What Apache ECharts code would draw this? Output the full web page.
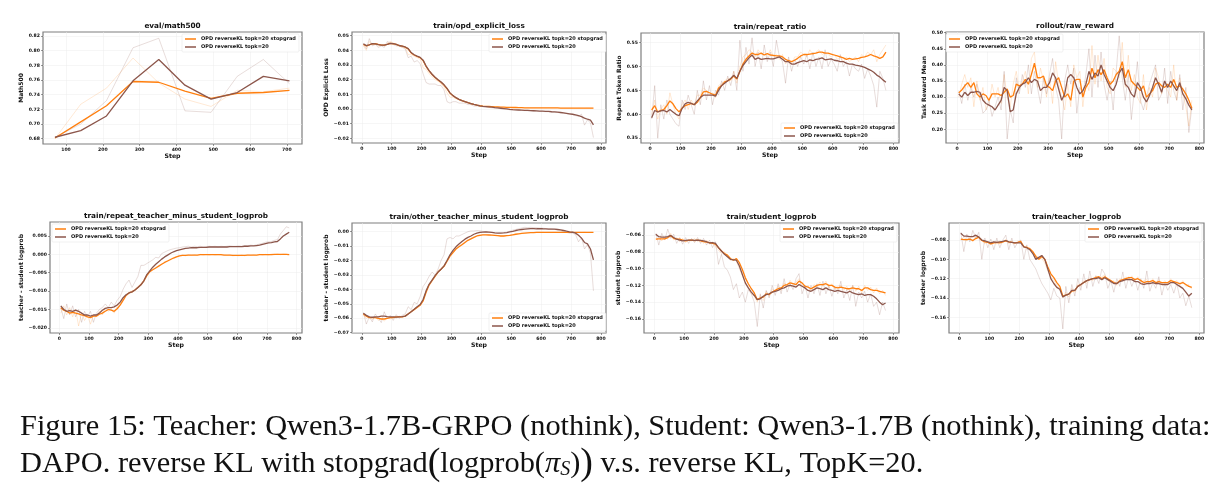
<!DOCTYPE html>
<html><head><meta charset="utf-8">
<script src="https://cdn.jsdelivr.net/npm/echarts@6/dist/echarts.min.js"></script>
<style>html,body{margin:0;padding:0;background:#fff}#c{width:1227px;height:499px}</style>
</head><body><div id="c"></div>
<script>
// ---------------- DATA ----------------
const NAME_SG = 'OPD reverseKL topk=20 stopgrad';
const NAME_TK = 'OPD reverseKL topk=20';

const steps = [5,15,25,35,45,55,65,75,85,95,
105,115,125,135,145,155,165,175,185,195,
205,215,225,235,245,255,265,275,285,295,
305,315,325,335,345,355,365,375,385,395,
405,415,425,435,445,455,465,475,485,495,
505,515,525,535,545,555,565,575,585,595,
605,615,625,635,645,655,665,675,685,695,
705,715,725,735,745,755,765,775];

// eval/math500
const mathSteps = [70,140,210,282,352,423,494,565,636,707];
const math_sg_smooth = [0.681,0.703,0.725,0.758,0.757,0.745,0.735,0.742,0.743,0.746];
const math_tk_smooth = [0.682,0.691,0.711,0.759,0.788,0.753,0.734,0.743,0.765,0.759];
const math_sg_raw = [0.680,0.727,0.749,0.790,0.756,0.734,0.724,0.746,0.744,0.749];
const math_tk_raw = [0.682,0.700,0.732,0.804,0.817,0.718,0.716,0.765,0.788,0.755];

// train/opd_explicit_loss
const loss_sg_smooth = [.044,.043,.0437,.0445,.0445,.0440,.0436,.0435,.0440,.0447,
.0445,.0440,.0432,.0428,.0422,.0410,.0382,.0368,.0358,.0350,
.0330,.0290,.0260,.0235,.0215,.0198,.0182,.0163,.0138,.0108,
.0090,.0076,.0066,.0057,.0050,.0043,.0037,.0031,.0026,.0022,
.0019,.0018,.0017,.0016,.0015,.0014,.0013,.0012,.0011,.0011,
.0010,.0010,.0009,.0009,.0008,.0008,.0008,.0007,.0007,.0007,
.0007,.0007,.0007,.0007,.0007,.0007,.0006,.0006,.0006,.0006,
.0006,.0006,.0006,.0006,.0006,.0006,.0006,.0006];
const loss_tk_smooth = [.0445,.0432,.0438,.0446,.0444,.0439,.0436,.0436,.0441,.0448,
.0446,.0441,.0433,.0429,.0423,.0412,.0385,.0370,.0360,.0352,
.0333,.0293,.0262,.0237,.0217,.0200,.0184,.0165,.0140,.0110,
.0091,.0077,.0066,.0057,.0050,.0043,.0037,.0031,.0026,.0021,
.0018,.0016,.0014,.0012,.0009,.0007,.0005,.0003,.0001,-.0003,
-.0005,-.0006,-.0007,-.0008,-.0009,-.0010,-.0011,-.0012,-.0013,-.0014,
-.0015,-.0016,-.0017,-.0019,-.0020,-.0022,-.0024,-.0027,-.0030,-.0033,
-.0036,-.0040,-.0046,-.0052,-.0062,-.0070,-.0076,-.0108];
const loss_sg_raw = [.043,.040,.046,.044,.0445,.043,.044,.043,.045,.046,
.045,.044,.043,.042,.042,.037,.037,.036,.035,.034,
.028,.027,.024,.022,.020,.019,.017,.015,.011,.008,
.008,.007,.006,.0055,.0048,.0042,.0036,.003,.0025,.0021,
.0018,.0017,.0016,.0015,.0014,.0013,.0012,.0011,.0011,.0010,
.0010,.0009,.0009,.0009,.0008,.0008,.0007,.0007,.0007,.0007,
.0007,.0006,.0007,.0006,.0006,.0007,.0006,.0006,.0006,.0006,
.0006,.0005,.0006,.0006,.0005,.0006,.0005,.0005];
const loss_tk_raw = [.044,.041,.048,.043,.044,.042,.043,.042,.046,.045,
.044,.043,.043,.042,.041,.035,.036,.032,.033,.031,
.024,.018,.017,.017,.017,.016,.016,.013,.005,.004,
.005,.005,.004,.004,.004,.003,.003,.002,.002,.002,
.0015,.0013,.0011,.0008,.0006,.0004,.0002,.0001,-.0001,-.0006,
-.0007,-.0008,-.0009,-.0010,-.0011,-.0012,-.0013,-.0014,-.0015,-.0016,
-.0017,-.0018,-.0019,-.0021,-.0022,-.0024,-.0026,-.0029,-.0032,-.0036,
-.0038,-.0045,-.0050,-.0035,-.0110,-.0075,-.0095,-.0195];

// train/repeat_ratio
const rep_sg_smooth = [.409,.418,.405,.408,.410,.418,.428,.422,.412,.405,
.413,.418,.420,.423,.420,.425,.435,.447,.448,.445,
.442,.440,.455,.460,.468,.470,.474,.480,.474,.490,
.505,.515,.522,.528,.525,.525,.528,.524,.527,.524,
.523,.522,.522,.520,.515,.512,.510,.513,.517,.522,
.525,.525,.526,.527,.528,.530,.530,.528,.528,.526,
.524,.522,.520,.518,.515,.517,.515,.516,.517,.519,
.520,.522,.525,.522,.520,.517,.520,.530];
const rep_tk_smooth = [.393,.408,.405,.407,.408,.405,.410,.405,.400,.397,
.412,.422,.425,.423,.420,.428,.435,.440,.440,.440,
.440,.438,.450,.460,.465,.470,.475,.482,.475,.490,
.502,.510,.518,.524,.515,.518,.515,.516,.517,.516,
.516,.518,.520,.515,.510,.510,.505,.505,.508,.510,
.512,.510,.514,.512,.515,.516,.518,.514,.515,.516,
.513,.512,.510,.510,.507,.505,.505,.503,.502,.500,
.498,.495,.492,.488,.482,.478,.472,.467];
const rep_sg_raw = [.40,.43,.39,.41,.42,.40,.445,.42,.40,.39,
.42,.43,.41,.43,.42,.44,.44,.455,.45,.44,
.445,.435,.46,.465,.47,.475,.47,.49,.465,.50,
.52,.525,.535,.53,.52,.535,.525,.53,.52,.535,
.52,.525,.515,.525,.505,.515,.505,.52,.52,.53,
.525,.52,.535,.525,.53,.535,.525,.53,.525,.52,
.525,.515,.52,.51,.52,.51,.515,.52,.51,.525,
.52,.53,.525,.535,.51,.525,.535,.545];
const rep_tk_raw = [.39,.46,.35,.42,.39,.43,.40,.39,.38,.375,
.43,.41,.44,.42,.40,.45,.42,.47,.43,.46,
.42,.45,.44,.47,.45,.48,.46,.49,.45,.555,
.49,.54,.505,.56,.50,.53,.495,.545,.51,.53,
.50,.555,.52,.51,.465,.52,.49,.515,.50,.52,
.505,.525,.495,.53,.50,.52,.495,.535,.50,.515,
.505,.49,.525,.50,.51,.48,.505,.495,.49,.505,
.475,.495,.48,.46,.415,.49,.475,.45];

// rollout/raw_reward
const rew_sg_smooth = [.313,.322,.335,.345,.330,.345,.310,.300,.310,.305,
.290,.310,.310,.310,.305,.315,.325,.300,.305,.340,
.335,.340,.355,.340,.370,.405,.360,.360,.365,.335,
.330,.320,.350,.360,.330,.300,.310,.290,.350,.355,
.355,.300,.330,.345,.390,.360,.385,.370,.385,.360,
.340,.350,.370,.380,.410,.360,.385,.350,.340,.330,
.320,.335,.300,.310,.320,.340,.345,.335,.330,.340,
.330,.355,.330,.335,.325,.310,.290,.265];
const rew_tk_smooth = [.310,.300,.315,.305,.315,.315,.318,.315,.290,.280,
.275,.270,.260,.275,.290,.330,.320,.255,.260,.310,
.330,.340,.345,.360,.345,.355,.350,.320,.330,.330,
.345,.375,.360,.325,.290,.310,.360,.370,.360,.330,
.310,.320,.340,.380,.355,.375,.365,.400,.370,.350,
.330,.320,.340,.375,.390,.340,.330,.310,.300,.345,
.330,.300,.285,.305,.330,.360,.340,.315,.350,.330,
.350,.335,.320,.345,.310,.295,.275,.260];
const rew_sg_raw = [.30,.34,.37,.33,.36,.27,.35,.29,.33,.26,
.28,.34,.30,.33,.28,.37,.30,.27,.34,.38,
.32,.35,.38,.31,.42,.44,.33,.39,.35,.30,
.36,.28,.41,.34,.30,.26,.34,.27,.40,.36,
.38,.27,.35,.32,.46,.34,.43,.35,.42,.33,
.31,.39,.38,.36,.47,.33,.43,.32,.37,.30,
.28,.37,.26,.33,.30,.39,.36,.31,.35,.32,
.30,.40,.29,.36,.31,.27,.21,.29];
const rew_tk_raw = [.32,.28,.34,.29,.33,.30,.34,.30,.25,.26,
.29,.24,.27,.30,.26,.38,.17,.26,.22,.36,
.31,.37,.33,.40,.31,.38,.33,.28,.36,.31,
.37,.42,.33,.29,.17,.35,.40,.34,.39,.25,
.33,.31,.37,.45,.30,.43,.33,.44,.34,.29,
.35,.26,.38,.49,.36,.29,.37,.23,.32,.41,
.29,.26,.30,.34,.37,.40,.29,.31,.39,.28,
.38,.32,.29,.37,.26,.33,.19,.27];

// train/repeat_teacher_minus_student_logprob
const rtm_sg_smooth = [-.0145,-.0152,-.0155,-.0160,-.0158,-.0160,-.0162,-.0165,-.0167,-.0170,
-.0172,-.0168,-.0168,-.0163,-.0160,-.0155,-.0150,-.0152,-.0155,-.0148,
-.0138,-.0125,-.0112,-.0105,-.0102,-.0097,-.0090,-.0083,-.0072,-.0058,
-.0047,-.0042,-.0037,-.0032,-.0027,-.0022,-.0018,-.0014,-.0010,-.0007,
-.0004,-.0003,-.0003,-.0002,-.0002,-.0002,-.0002,-.0001,-.0001,-.0001,
-.0001,-.0001,-.0001,-.0001,-.0001,-.0002,-.0002,-.0002,-.0003,-.0003,
-.0003,-.0003,-.0003,-.0002,-.0002,-.0002,-.0002,-.0001,-.0001,-.0001,
-.0001,-.0001,0,0,0,0,0,-.0001];
const rtm_tk_smooth = [-.0140,-.0150,-.0155,-.0153,-.0155,-.0152,-.0155,-.0160,-.0165,-.0165,
-.0168,-.0165,-.0165,-.0160,-.0152,-.0147,-.0145,-.0145,-.0143,-.0138,
-.0130,-.0118,-.0110,-.0105,-.0102,-.0097,-.0090,-.0083,-.0072,-.0055,
-.0045,-.0035,-.0027,-.0020,-.0013,-.0007,-.0002,.0003,.0007,.0010,
.0012,.0014,.0016,.0017,.0018,.0018,.0018,.0019,.0019,.0019,
.0020,.0020,.0020,.0020,.0020,.0020,.0020,.0021,.0021,.0021,
.0021,.0021,.0022,.0022,.0023,.0023,.0024,.0025,.0027,.0029,
.0031,.0032,.0034,.0035,.0042,.0050,.0055,.0060];
const rtm_sg_raw = [-.0160,-.0140,-.0165,-.0145,-.0170,-.0150,-.0195,-.0160,-.0180,-.0165,
-.0190,-.0165,-.0170,-.0155,-.0165,-.0145,-.0155,-.0148,-.0160,-.0140,
-.0135,-.0120,-.0110,-.0102,-.0100,-.0095,-.0088,-.0080,-.0070,-.0055,
-.0046,-.0041,-.0036,-.0031,-.0026,-.0021,-.0017,-.0013,-.0009,-.0006,
-.0004,-.0002,-.0004,-.0001,-.0003,-.0001,-.0003,0,-.0002,0,
-.0002,0,-.0002,-.0001,-.0002,-.0001,-.0003,-.0002,-.0004,-.0003,
-.0004,-.0002,-.0004,-.0001,-.0003,-.0001,-.0003,0,-.0002,0,
-.0002,.0001,-.0001,.0001,-.0001,.0001,0,-.0001];
const rtm_tk_raw = [-.0145,-.0175,-.0135,-.0165,-.0140,-.0170,-.0150,-.0185,-.0155,-.0170,
-.0155,-.0185,-.0160,-.0150,-.0145,-.0135,-.0145,-.0130,-.0140,-.0125,
-.0115,-.0095,-.0080,-.0070,-.0090,-.0075,-.0060,-.0030,-.0030,-.0025,
-.0020,-.0015,-.0008,-.0010,.0002,.0006,.0010,.0013,.0015,.0017,
.0018,.0020,.0021,.0022,.0020,.0022,.0021,.0022,.0020,.0021,
.0022,.0021,.0022,.0020,.0022,.0021,.0022,.0023,.0022,.0022,
.0023,.0022,.0024,.0023,.0025,.0024,.0026,.0028,.0030,.0033,
.0034,.0035,.0038,.0040,.0055,.0065,.0075,.0072];

// train/other_teacher_minus_student_logprob
const otm_sg_smooth = [-.0570,-.0585,-.0595,-.0595,-.0595,-.0600,-.0605,-.0605,-.0600,-.0595,
-.0595,-.0590,-.0590,-.0590,-.0585,-.0570,-.0555,-.0540,-.0525,-.0510,
-.0480,-.0420,-.0370,-.0340,-.0310,-.0280,-.0260,-.0240,-.0205,-.0170,
-.0145,-.0120,-.0105,-.0090,-.0075,-.0060,-.0050,-.0040,-.0030,-.0025,
-.0022,-.0022,-.0023,-.0024,-.0026,-.0028,-.0030,-.0030,-.0028,-.0026,
-.0022,-.0018,-.0015,-.0012,-.0010,-.0008,-.0007,-.0006,-.0005,-.0005,
-.0005,-.0005,-.0005,-.0005,-.0005,-.0005,-.0005,-.0005,-.0005,-.0005,
-.0005,-.0005,-.0005,-.0005,-.0005,-.0005,-.0005,-.0005];
const otm_tk_smooth = [-.0565,-.0580,-.0590,-.0593,-.0590,-.0590,-.0585,-.0585,-.0588,-.0590,
-.0590,-.0592,-.0590,-.0588,-.0585,-.0570,-.0555,-.0538,-.0520,-.0505,
-.0470,-.0410,-.0365,-.0335,-.0305,-.0280,-.0260,-.0237,-.0200,-.0160,
-.0130,-.0105,-.0085,-.0068,-.0052,-.0040,-.0030,-.0018,-.0010,-.0005,
-.0003,-.0002,-.0003,-.0005,-.0008,-.0010,-.0010,-.0009,-.0006,-.0002,
.0002,.0008,.0012,.0015,.0018,.0020,.0021,.0021,.0020,.0020,
.0020,.0019,.0018,.0018,.0018,.0015,.0012,.0008,.0003,-.0001,
-.0004,-.0010,-.0025,-.0045,-.0075,-.0085,-.0120,-.0195];
const otm_sg_raw = [-.0580,-.0600,-.0585,-.0610,-.0590,-.0615,-.0600,-.0620,-.0595,-.0605,
-.0590,-.0600,-.0585,-.0595,-.0580,-.0565,-.0550,-.0535,-.0520,-.0505,
-.0470,-.0410,-.0365,-.0335,-.0305,-.0275,-.0255,-.0235,-.0200,-.0165,
-.0140,-.0115,-.0100,-.0085,-.0070,-.0055,-.0045,-.0035,-.0027,-.0022,
-.0020,-.0021,-.0022,-.0025,-.0027,-.0029,-.0031,-.0029,-.0027,-.0024,
-.0020,-.0016,-.0013,-.0011,-.0009,-.0007,-.0006,-.0005,-.0004,-.0004,
-.0004,-.0005,-.0004,-.0005,-.0004,-.0005,-.0004,-.0005,-.0004,-.0005,
-.0004,-.0006,-.0004,-.0005,-.0004,-.0006,-.0005,-.0005];
const otm_tk_raw = [-.0560,-.0640,-.0590,-.0625,-.0570,-.0600,-.0630,-.0555,-.0605,-.0580,
-.0615,-.0575,-.0600,-.0580,-.0570,-.0520,-.0540,-.0490,-.0500,-.0450,
-.0380,-.0350,-.0310,-.0280,-.0300,-.0260,-.0200,-.0160,-.0050,-.0040,
-.0050,-.0030,-.0030,-.0020,-.0010,.0000,.0005,.0005,.0008,.0006,
.0002,.0000,-.0004,-.0006,-.0008,-.0010,-.0008,-.0006,-.0003,.0003,
.0010,.0015,.0020,.0025,.0030,.0028,.0030,.0028,.0027,.0025,
.0024,.0022,.0022,.0020,.0015,.0012,.0008,-.0002,-.0005,-.0010,
-.0010,-.0020,-.0070,-.0040,-.0120,-.0090,-.0150,-.0410];

// train/student_logprob
const stu_sg_smooth = [-.0650,-.0645,-.0645,-.0645,-.0630,-.0610,-.0640,-.0650,-.0650,-.0660,
-.0670,-.0665,-.0660,-.0668,-.0660,-.0670,-.0680,-.0685,-.0690,-.0700,
-.0710,-.0750,-.0790,-.0820,-.0840,-.0880,-.0900,-.0880,-.0930,-.1010,
-.1110,-.1180,-.1240,-.1290,-.1370,-.1350,-.1340,-.1300,-.1310,-.1280,
-.1260,-.1240,-.1230,-.1200,-.1190,-.1170,-.1180,-.1190,-.1150,-.1170,
-.1210,-.1220,-.1240,-.1220,-.1200,-.1190,-.1190,-.1180,-.1200,-.1200,
-.1220,-.1230,-.1220,-.1230,-.1240,-.1240,-.1230,-.1240,-.1240,-.1260,
-.1230,-.1230,-.1250,-.1260,-.1260,-.1270,-.1280,-.1290];
const stu_tk_smooth = [-.0590,-.0620,-.0625,-.0625,-.0620,-.0605,-.0630,-.0650,-.0660,-.0670,
-.0665,-.0660,-.0660,-.0665,-.0660,-.0665,-.0670,-.0680,-.0695,-.0690,
-.0700,-.0750,-.0790,-.0830,-.0860,-.0890,-.0895,-.0900,-.0970,-.1070,
-.1170,-.1230,-.1280,-.1320,-.1370,-.1360,-.1330,-.1310,-.1300,-.1280,
-.1270,-.1260,-.1240,-.1230,-.1210,-.1200,-.1210,-.1220,-.1190,-.1210,
-.1230,-.1260,-.1270,-.1250,-.1230,-.1240,-.1250,-.1230,-.1250,-.1260,
-.1270,-.1260,-.1270,-.1280,-.1290,-.1270,-.1290,-.1300,-.1310,-.1300,
-.1320,-.1310,-.1310,-.1330,-.1360,-.1400,-.1430,-.1410];
const stu_sg_raw = [-.066,-.063,-.067,-.062,-.065,-.058,-.066,-.063,-.068,-.064,
-.069,-.065,-.067,-.064,-.068,-.065,-.070,-.066,-.071,-.068,
-.074,-.078,-.082,-.080,-.087,-.090,-.088,-.091,-.100,-.108,
-.118,-.122,-.130,-.133,-.140,-.132,-.138,-.127,-.133,-.124,
-.128,-.121,-.126,-.117,-.121,-.114,-.120,-.116,-.112,-.120,
-.124,-.120,-.127,-.119,-.122,-.116,-.121,-.115,-.123,-.118,
-.125,-.121,-.120,-.126,-.121,-.127,-.120,-.127,-.121,-.129,
-.120,-.126,-.122,-.129,-.123,-.130,-.126,-.132];
const stu_tk_raw = [-.058,-.072,-.058,-.066,-.053,-.064,-.059,-.070,-.063,-.071,
-.063,-.070,-.064,-.069,-.063,-.070,-.064,-.072,-.066,-.075,
-.068,-.095,-.083,-.098,-.102,-.110,-.125,-.118,-.135,-.128,
-.140,-.125,-.130,-.140,-.169,-.130,-.147,-.126,-.135,-.120,
-.132,-.118,-.130,-.112,-.128,-.118,-.125,-.112,-.106,-.130,
-.120,-.135,-.120,-.130,-.118,-.132,-.115,-.130,-.120,-.133,
-.122,-.130,-.115,-.135,-.125,-.138,-.120,-.145,-.128,-.135,
-.127,-.140,-.130,-.145,-.140,-.155,-.140,-.150];

// train/teacher_logprob
const tea_sg_smooth = [-.0790,-.0795,-.0795,-.0790,-.0805,-.0785,-.0770,-.0805,-.0820,-.0825,
-.0840,-.0830,-.0825,-.0830,-.0820,-.0810,-.0820,-.0825,-.0830,-.0825,
-.0815,-.0870,-.0875,-.0890,-.0920,-.0970,-.1000,-.0970,-.1000,-.1080,
-.1150,-.1190,-.1240,-.1280,-.1380,-.1370,-.1360,-.1330,-.1320,-.1280,
-.1260,-.1240,-.1220,-.1210,-.1200,-.1190,-.1180,-.1200,-.1180,-.1200,
-.1220,-.1240,-.1250,-.1220,-.1210,-.1200,-.1190,-.1190,-.1210,-.1200,
-.1220,-.1240,-.1230,-.1230,-.1220,-.1240,-.1230,-.1240,-.1240,-.1240,
-.1220,-.1230,-.1240,-.1250,-.1240,-.1260,-.1280,-.1290];
const tea_tk_smooth = [-.0730,-.0760,-.0760,-.0765,-.0765,-.0750,-.0770,-.0800,-.0810,-.0820,
-.0830,-.0820,-.0825,-.0820,-.0815,-.0805,-.0820,-.0825,-.0830,-.0830,
-.0830,-.0870,-.0880,-.0900,-.0940,-.1000,-.0980,-.0960,-.1000,-.1100,
-.1200,-.1250,-.1290,-.1310,-.1390,-.1370,-.1360,-.1320,-.1320,-.1280,
-.1260,-.1240,-.1220,-.1210,-.1200,-.1200,-.1190,-.1210,-.1190,-.1210,
-.1230,-.1250,-.1250,-.1230,-.1220,-.1210,-.1210,-.1210,-.1230,-.1230,
-.1250,-.1260,-.1250,-.1250,-.1240,-.1250,-.1250,-.1260,-.1260,-.1260,
-.1240,-.1240,-.1260,-.1280,-.1300,-.1340,-.1380,-.1350];
const tea_sg_raw = [-.080,-.077,-.081,-.078,-.082,-.075,-.079,-.080,-.084,-.081,
-.085,-.082,-.084,-.081,-.083,-.079,-.084,-.081,-.084,-.081,
-.082,-.086,-.090,-.088,-.094,-.096,-.098,-.099,-.104,-.112,
-.118,-.122,-.127,-.130,-.140,-.134,-.139,-.130,-.134,-.126,
-.128,-.122,-.125,-.119,-.122,-.117,-.120,-.118,-.116,-.122,
-.124,-.122,-.127,-.120,-.123,-.118,-.121,-.117,-.123,-.118,
-.124,-.122,-.121,-.125,-.120,-.126,-.121,-.126,-.122,-.126,
-.120,-.125,-.122,-.127,-.122,-.128,-.126,-.131];
const tea_tk_raw = [-.072,-.092,-.074,-.082,-.070,-.078,-.072,-.100,-.078,-.088,
-.079,-.090,-.078,-.088,-.080,-.075,-.090,-.078,-.088,-.082,
-.080,-.100,-.085,-.100,-.105,-.110,-.118,-.125,-.130,-.135,
-.142,-.130,-.138,-.140,-.172,-.128,-.145,-.126,-.138,-.120,
-.132,-.115,-.130,-.112,-.128,-.117,-.125,-.110,-.115,-.130,
-.122,-.134,-.120,-.128,-.113,-.130,-.118,-.128,-.120,-.132,
-.120,-.130,-.112,-.133,-.124,-.130,-.118,-.137,-.125,-.132,
-.126,-.135,-.125,-.140,-.135,-.148,-.138,-.150];

// tick labels
const stepTicks = [0,100,200,300,400,500,600,700,800];
const mathStepTicks = [100,200,300,400,500,600,700];
const mathTicks = [0.68,0.70,0.72,0.74,0.76,0.78,0.80,0.82];
const lossTicks = [-0.02,-0.01,0.00,0.01,0.02,0.03,0.04,0.05];
const repTicks = [0.35,0.40,0.45,0.50,0.55];
const rewTicks = [0.20,0.25,0.30,0.35,0.40,0.45,0.50];
const rtmTicks = [-0.020,-0.015,-0.010,-0.005,0.000,0.005];
const otmTicks = [-0.07,-0.06,-0.05,-0.04,-0.03,-0.02,-0.01,0.00];
const stuTicks = [-0.16,-0.14,-0.12,-0.10,-0.08,-0.06];
const teaTicks = [-0.16,-0.14,-0.12,-0.10,-0.08];

const titles = ['eval/math500','train/opd_explicit_loss','train/repeat_ratio','rollout/raw_reward',
  'train/repeat_teacher_minus_student_logprob','train/other_teacher_minus_student_logprob',
  'train/student_logprob','train/teacher_logprob'];
const yLabels = ['Math500','OPD Explicit Loss','Repeat Token Ratio','Task Reward Mean',
  'teacher - student logprob','teacher - student logprob','student logprob','teacher logprob'];
const xLabel = 'Step';

const captionLine1 = 'Figure 15: Teacher: Qwen3-1.7B-GRPO (nothink), Student: Qwen3-1.7B (nothink), training data:';

// ---------------- ASSEMBLY ----------------
const panels = [
  {xs: mathSteps, sgS: math_sg_smooth, tkS: math_tk_smooth, sgR: math_sg_raw, tkR: math_tk_raw, xt: mathStepTicks, yt: mathTicks, dec: 2},
  {xs: steps, sgS: loss_sg_smooth, tkS: loss_tk_smooth, sgR: loss_sg_raw, tkR: loss_tk_raw, xt: stepTicks, yt: lossTicks, dec: 2},
  {xs: steps, sgS: rep_sg_smooth, tkS: rep_tk_smooth, sgR: rep_sg_raw, tkR: rep_tk_raw, xt: stepTicks, yt: repTicks, dec: 2},
  {xs: steps, sgS: rew_sg_smooth, tkS: rew_tk_smooth, sgR: rew_sg_raw, tkR: rew_tk_raw, xt: stepTicks, yt: rewTicks, dec: 2},
  {xs: steps, sgS: rtm_sg_smooth, tkS: rtm_tk_smooth, sgR: rtm_sg_raw, tkR: rtm_tk_raw, xt: stepTicks, yt: rtmTicks, dec: 3},
  {xs: steps, sgS: otm_sg_smooth, tkS: otm_tk_smooth, sgR: otm_sg_raw, tkR: otm_tk_raw, xt: stepTicks, yt: otmTicks, dec: 2},
  {xs: steps, sgS: stu_sg_smooth, tkS: stu_tk_smooth, sgR: stu_sg_raw, tkR: stu_tk_raw, xt: stepTicks, yt: stuTicks, dec: 2},
  {xs: steps, sgS: tea_sg_smooth, tkS: tea_tk_smooth, sgR: tea_sg_raw, tkR: tea_tk_raw, xt: stepTicks, yt: teaTicks, dec: 2}
];

// layout: grid rect, axis extents, legend position
const layout = [
  {g:[43,32,259,112],  x:[37.5,741], y:[0.6728,0.8255],  lg:[182,34], yGap:14},
  {g:[352,32,254,111], x:[-33,817],  y:[-0.0232,0.0525], lg:[489,34], yGap:17},
  {g:[641,33,258,110], x:[-30,818],  y:[0.340,0.570],    lg:[781,123], yGap:13},
  {g:[946,32,258,111], x:[-37,815],  y:[0.1575,0.502],   lg:[946,34], yGap:13},
  {g:[50,222,252,111], x:[-31.4,818],y:[-0.0214,0.0088], lg:[52,224], yGap:20},
  {g:[352,223,254,110],x:[-33,817],  y:[-0.0702,0.006],  lg:[489,313], yGap:17},
  {g:[644,223,255,110],x:[-34.6,820],y:[-0.1767,-0.0457],lg:[780,224], yGap:16},
  {g:[949,223,255,110],x:[-34.4,815.6],y:[-0.1762,-0.0624],lg:[1085,224], yGap:16}
];

const ORANGE = '#ff7f0e', BROWN = '#8c564b';
const FONT = '"DejaVu Sans", sans-serif';
const pairs = (xs, ys) => xs.map((x, i) => [x, ys[i]]);
const fmt = d => v => { const s = Number(v).toFixed(d); return (Number(s) === 0 ? (0).toFixed(d) : s).replace('-', '\u2212'); };

const grids = [], xAxes = [], yAxes = [], series = [], legends = [], graphics = [];
panels.forEach((p, k) => {
  const L = layout[k];
  grids.push({left: L.g[0], top: L.g[1], width: L.g[2], height: L.g[3], show: true,
    borderColor: '#7f7f7f', borderWidth: 1.2, backgroundColor: '#fff'});
  const labelStyle = {fontFamily: FONT, fontWeight: 'bold', fontSize: 4.6, color: '#111'};
  xAxes.push({type: 'value', gridIndex: k, min: L.x[0], max: L.x[1], position: 'bottom',
    name: xLabel, nameLocation: 'middle', nameGap: 7,
    nameTextStyle: {fontFamily: FONT, fontWeight: 'bold', fontSize: 6.2, color: '#111'},
    axisLine: {show: false, onZero: false},
    axisTick: {show: true, length: 2, lineStyle: {color: '#555', width: 0.6}, customValues: p.xt},
    axisLabel: Object.assign({margin: 3, customValues: p.xt, formatter: v => String(Math.round(v))}, labelStyle),
    splitLine: {show: true, lineStyle: {color: '#ececec', width: 0.5}}
  });
  yAxes.push({type: 'value', gridIndex: k, min: L.y[0], max: L.y[1], position: 'left',
    name: yLabels[k], nameLocation: 'middle', nameGap: L.yGap, nameRotate: 90,
    nameTextStyle: {fontFamily: FONT, fontWeight: 'bold', fontSize: 6, color: '#111'},
    axisLine: {show: false, onZero: false},
    axisTick: {show: true, length: 2, lineStyle: {color: '#555', width: 0.6}, customValues: p.yt},
    axisLabel: Object.assign({margin: 3, customValues: p.yt, formatter: fmt(p.dec)}, labelStyle),
    splitLine: {show: true, lineStyle: {color: '#ececec', width: 0.5}}
  });
  const base = {type: 'line', xAxisIndex: k, yAxisIndex: k, showSymbol: false, symbol: 'none', animation: false, silent: true};
  series.push(Object.assign({}, base, {name: 'raw sg', data: pairs(p.xs, p.sgR), lineStyle: {color: ORANGE, width: 0.8, opacity: 0.22}, itemStyle: {color: ORANGE}, z: 1}));
  series.push(Object.assign({}, base, {name: 'raw tk', data: pairs(p.xs, p.tkR), lineStyle: {color: BROWN, width: 0.8, opacity: 0.25}, itemStyle: {color: BROWN}, z: 1}));
  series.push(Object.assign({}, base, {name: NAME_SG, data: pairs(p.xs, p.sgS), lineStyle: {color: ORANGE, width: 1.3}, itemStyle: {color: ORANGE}, z: 3}));
  series.push(Object.assign({}, base, {name: NAME_TK, data: pairs(p.xs, p.tkS), lineStyle: {color: BROWN, width: 1.3}, itemStyle: {color: BROWN}, z: 4}));
  legends.push({data: [NAME_SG, NAME_TK], orient: 'vertical', left: L.lg[0], top: L.lg[1],
    icon: 'rect', itemWidth: 11, itemHeight: 1.5, itemGap: 2, padding: [2, 3, 2, 3],
    backgroundColor: 'rgba(255,255,255,0.85)', borderColor: '#e2e2e2', borderWidth: 0.5, borderRadius: 1,
    selectedMode: false,
    textStyle: {fontFamily: FONT, fontWeight: 'bold', fontSize: 5, color: '#111', lineHeight: 6}});
  graphics.push({type: 'text', x: L.g[0] + L.g[2] / 2, y: L.g[1] - 6, silent: true,
    style: {text: titles[k], font: 'bold 7.3px ' + FONT, fill: '#111', align: 'center', verticalAlign: 'middle'}});
});

graphics.push({type: 'text', x: 20, y: 427, silent: true,
  style: {text: captionLine1, font: '30.4px "Liberation Serif", serif', fill: '#111', align: 'left', verticalAlign: 'middle'}});
graphics.push({type: 'text', x: 20, y: 464, silent: true,
  style: {text: '{n|DAPO. reverse KL with stopgrad}{p|(}{n|logprob(}{i|\u03c0}{s|S}{n|)}{p|)}{n| v.s. reverse KL, TopK=20.}',
    fill: '#111', align: 'left', verticalAlign: 'middle',
    rich: {
      n: {font: '30.4px "Liberation Serif", serif', fill: '#111'},
      p: {font: '38px "Liberation Serif", serif', fill: '#111'},
      i: {font: 'italic 30.4px "Liberation Serif", serif', fill: '#111'},
      s: {font: 'italic 20px "Liberation Serif", serif', fill: '#111', padding: [12, 0, 0, 0]}
    }}});

const chart = echarts.init(document.getElementById('c'), null, {renderer: 'canvas'});
chart.setOption({animation: false, backgroundColor: '#fff', grid: grids, xAxis: xAxes, yAxis: yAxes,
  series: series, legend: legends, graphic: graphics});
</script></body></html>
